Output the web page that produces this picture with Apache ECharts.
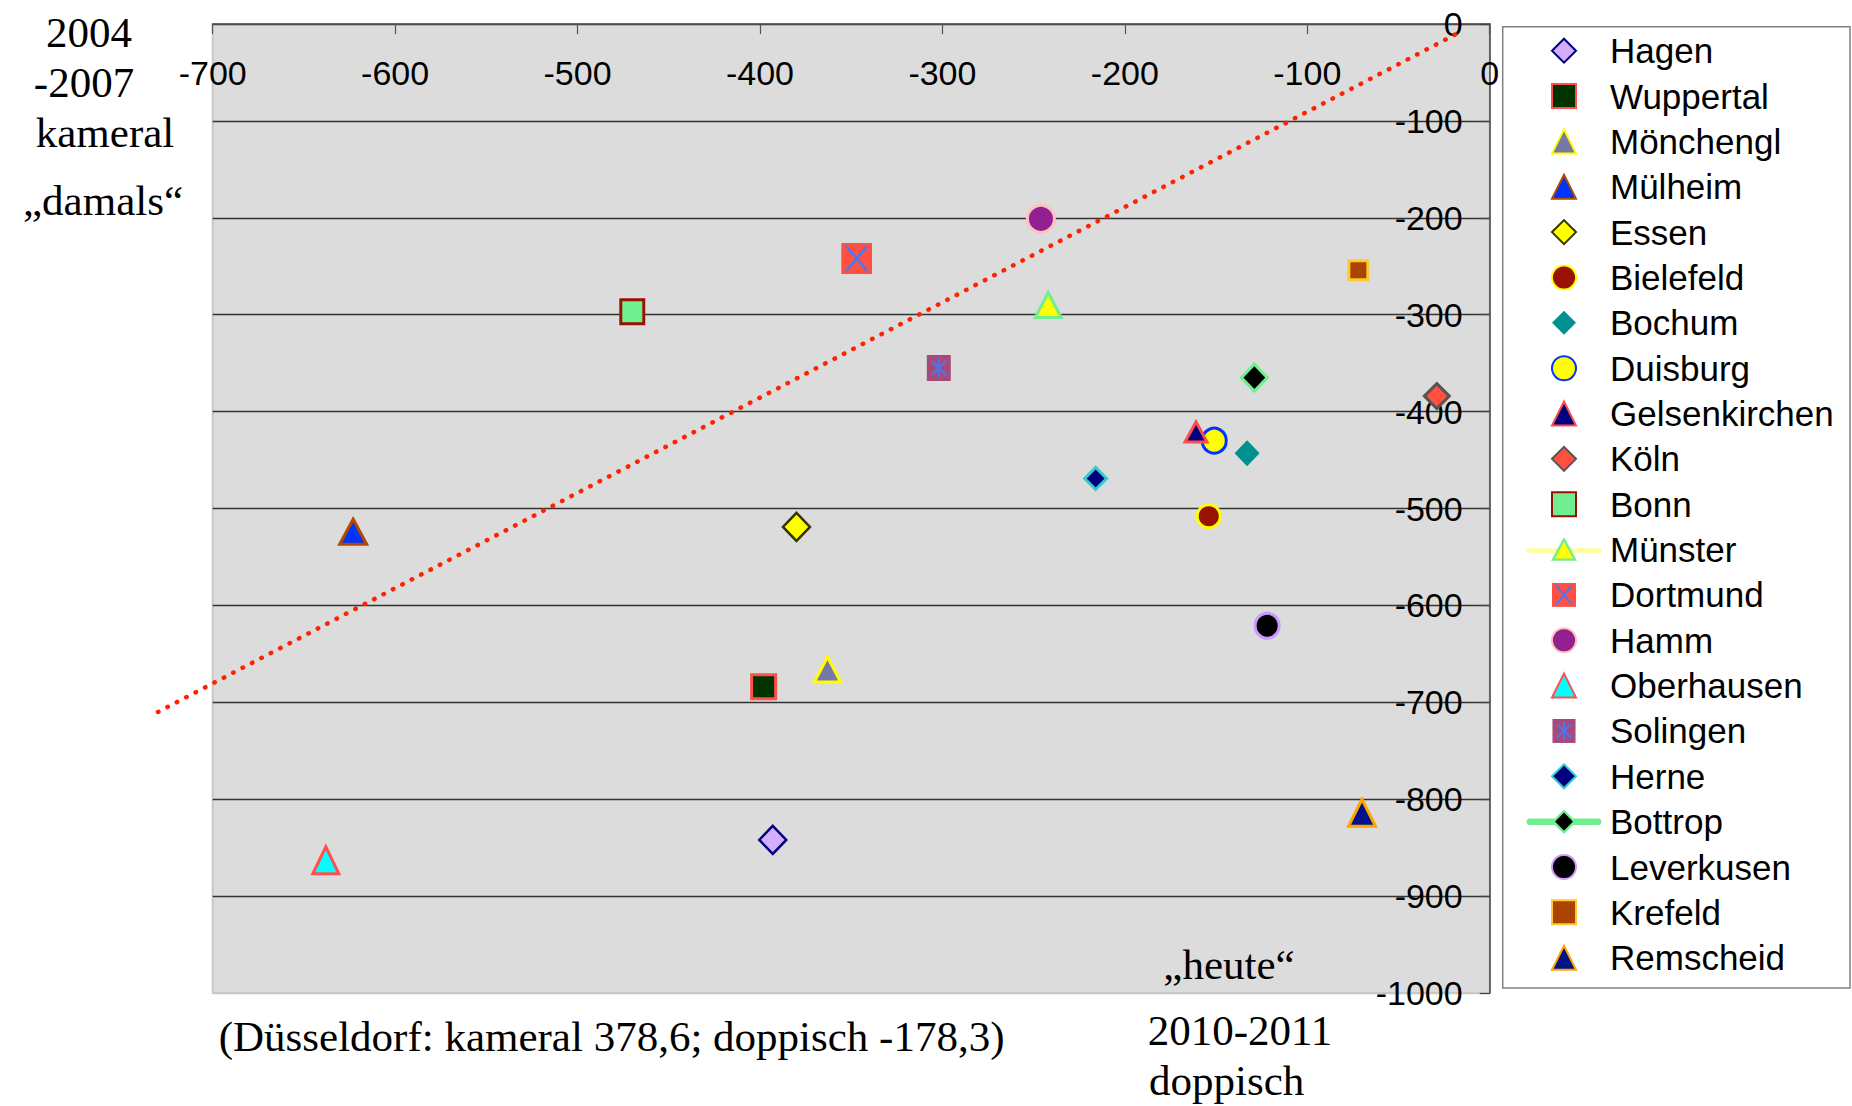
<!DOCTYPE html>
<html><head><meta charset="utf-8">
<script src="https://cdn.jsdelivr.net/npm/echarts@6/dist/echarts.min.js"></script>
<style>html,body{margin:0;padding:0;background:#fff;}#chart{width:1852px;height:1106px;}</style>
</head><body><div id="chart"></div>
<script>
// ---- data ----
const cities = ['Hagen','Wuppertal','Mönchengl','Mülheim','Essen','Bielefeld','Bochum','Duisburg','Gelsenkirchen','Köln','Bonn','Münster','Dortmund','Hamm','Oberhausen','Solingen','Herne','Bottrop','Leverkusen','Krefeld','Remscheid'];
const doppisch = [-393,-398,-363,-623,-380,-154,-133,-151,-161,-29,-470,-242,-347,-246,-638,-302,-216,-129,-122,-72,-70];
const kameral  = [-842,-684,-666,-524,-519,-508,-443,-430,-421,-384,-297,-290,-242,-201,-863,-355,-469,-365,-621,-254,-814];
const trendX = [-730,-17];
const trendY = [-710,-9];
const leftTitle = ['2004','-2007','kameral','„damals“'];
const bottomTitle = ['„heute“','2010-2011','doppisch'];
const note = '(Düsseldorf: kameral 378,6; doppisch -178,3)';

// ---- styles ----
function svgUrl(s){return 'image://data:image/svg+xml;charset=utf-8,'+encodeURIComponent(s);}
const dortmundImg = svgUrl('<svg xmlns="http://www.w3.org/2000/svg" width="31" height="31" viewBox="0 0 31 31"><rect width="31" height="31" fill="#ff5043"/><path d="M5 3 L26 28 M26 3 L5 28" stroke="#4a78f0" stroke-width="2.6" fill="none"/></svg>');
const solingenImg = svgUrl('<svg xmlns="http://www.w3.org/2000/svg" width="25" height="26" viewBox="0 0 25 26"><rect width="25" height="26" fill="#a64a7a"/><path d="M12.5 3 L12.5 23 M5 6 L20 20 M20 6 L5 20" stroke="#4a78f0" stroke-width="2.2" fill="none"/></svg>');
const muensterLegend = svgUrl('<svg xmlns="http://www.w3.org/2000/svg" width="82" height="26" viewBox="0 0 82 26"><line x1="3" y1="14" x2="79" y2="14" stroke="#ffff99" stroke-width="5" stroke-linecap="round"/><path d="M41 2 L53 24 L29 24 Z" fill="#ffff00" stroke="#70ee90" stroke-width="2.5"/></svg>');
const bottropLegend = svgUrl('<svg xmlns="http://www.w3.org/2000/svg" width="82" height="26" viewBox="0 0 82 26"><line x1="4" y1="13" x2="78" y2="13" stroke="#70ee90" stroke-width="7" stroke-linecap="round"/><path d="M41 1.5 L52.5 13 L41 24.5 L29.5 13 Z" fill="#000000" stroke="#70ee90" stroke-width="2.5"/></svg>');
const ICON = {
  diamond: 'path://M12 0 L24 12 L12 24 L0 12 Z',
  triangle: 'path://M12 0 L24 24 L0 24 Z',
  circle: 'path://M12 0 A12 12 0 1 1 11.99 0 Z',
  rect: 'path://M0 0 L24 0 L24 24 L0 24 Z'
};
const S = {
 'Hagen':{symbol:'diamond',size:[27,28],fill:'#d2aefc',stroke:'#000080',w:2.5},
 'Wuppertal':{symbol:'rect',size:[24,24],fill:'#003300',stroke:'#ff5048',w:3},
 'Mönchengl':{symbol:'triangle',size:[26,25],fill:'#7878a8',stroke:'#ffff00',w:3},
 'Mülheim':{symbol:'triangle',size:[27,25],fill:'#0033ff',stroke:'#b04a00',w:3},
 'Essen':{symbol:'diamond',size:[27,28],fill:'#ffff00',stroke:'#333300',w:2.5},
 'Bielefeld':{symbol:'circle',size:[23,23],fill:'#991100',stroke:'#ffff00',w:3},
 'Bochum':{symbol:'diamond',size:[25,26],fill:'#009090',stroke:'#009090',w:0},
 'Duisburg':{symbol:'circle',size:[24,25],fill:'#ffff00',stroke:'#0033ff',w:3},
 'Gelsenkirchen':{symbol:'triangle',size:[22,20],fill:'#000080',stroke:'#ff4c4c',w:3},
 'Köln':{symbol:'diamond',size:[25,25],fill:'#ff5040',stroke:'#555555',w:3},
 'Bonn':{symbol:'rect',size:[23,24],fill:'#70ee90',stroke:'#991100',w:3},
 'Münster':{symbol:'triangle',size:[26,25],fill:'#ffff00',stroke:'#70ee90',w:3,legendIcon:muensterLegend},
 'Dortmund':{symbol:dortmundImg,size:[31,31]},
 'Hamm':{symbol:'circle',size:[27,27],fill:'#922090',stroke:'#ffc0c0',w:3},
 'Oberhausen':{symbol:'triangle',size:[26,27],fill:'#00ffff',stroke:'#ff5050',w:3},
 'Solingen':{symbol:solingenImg,size:[25,26]},
 'Herne':{symbol:'diamond',size:[22,22],fill:'#000080',stroke:'#33cccc',w:3},
 'Bottrop':{symbol:'diamond',size:[26,27],fill:'#000000',stroke:'#70ee90',w:3,legendIcon:bottropLegend},
 'Leverkusen':{symbol:'circle',size:[24,25],fill:'#000000',stroke:'#cc99ff',w:3},
 'Krefeld':{symbol:'rect',size:[19,19],fill:'#aa4400',stroke:'#ffc830',w:3},
 'Remscheid':{symbol:'triangle',size:[27,27],fill:'#00128a',stroke:'#ffa500',w:3}
};

const SANS = '"Liberation Sans", Arial, sans-serif';
const SERIF = '"Liberation Serif", "Times New Roman", serif';

const series = cities.map((name,i)=>{
  const s = S[name];
  return {
    name, type: 'scatter', xAxisIndex: 0, yAxisIndex: 0,
    data: [[doppisch[i], kameral[i]]],
    symbol: s.symbol, symbolSize: s.size,
    itemStyle: {color: s.fill || '#ff5043', borderColor: s.stroke || 'transparent', borderWidth: s.w || 0, opacity: 1},
    z: 5, silent: true, animation: false
  };
});
series.push({
  name: 'trend', type: 'line', xAxisIndex: 1, yAxisIndex: 1,
  data: trendX.map((x,i)=>[x, trendY[i]]),
  symbol: 'none', silent: true, animation: false, z: 3,
  lineStyle: {color: '#ff2200', width: 4.5, type: [0.5, 10.1], cap: 'round'}
});

const legendData = cities.map(name=>{
  const s = S[name];
  let icon = s.legendIcon;
  if (!icon) icon = ICON[s.symbol] || s.symbol;
  return {name, icon};
});

const splitColors = ['#c8c8c8'].concat(Array(10).fill('#333333'));

const gtext = (text, x, y, align) => ({
  type: 'text', x, y, z: 10, silent: true,
  style: {text, font: '43px ' + SERIF, fill: '#000', textAlign: align || 'center', textVerticalAlign: 'middle', align: align || 'center', verticalAlign: 'middle'}
});

const option = {
  backgroundColor: '#ffffff',
  animation: false,
  grid: [
    {left: 212.7, right: 362.3, top: 24, bottom: 113, show: true, backgroundColor: '#dcdcdc', borderColor: '#c8c8c8', borderWidth: 2},
    {left: 158.0, right: 362.3, top: 24, bottom: 113, show: false}
  ],
  xAxis: [{
    type: 'value', gridIndex: 0, position: 'top', min: -700, max: 0, interval: 100,
    axisLine: {show: true, onZero: false, lineStyle: {color: '#555', width: 1.5}},
    axisTick: {show: true, inside: true, length: 10, lineStyle: {color: '#555', width: 1.2}},
    axisLabel: {inside: true, margin: 32, color: '#000', fontSize: 34, fontFamily: SANS, showMinLabel: true, showMaxLabel: true, formatter: v => String(v)},
    splitLine: {show: false}
  }, {
    type: 'value', gridIndex: 1, min: -730, max: 0, show: false
  }],
  yAxis: [{
    type: 'value', gridIndex: 0, position: 'right', min: -1000, max: 0, interval: 100,
    axisLine: {show: true, onZero: false, lineStyle: {color: '#444', width: 1.5}},
    axisTick: {show: true, inside: true, length: 10, lineStyle: {color: '#444', width: 1.2}},
    axisLabel: {inside: true, margin: 27, color: '#000', fontSize: 34, fontFamily: SANS, showMinLabel: true, showMaxLabel: true, formatter: v => String(v)},
    splitLine: {show: true, lineStyle: {color: splitColors, width: 1.3}}
  }, {
    type: 'value', gridIndex: 1, min: -1000, max: 0, show: false
  }],
  legend: {
    data: legendData, orient: 'vertical', left: 1523, top: 33.2, padding: 0,
    itemWidth: 82, itemHeight: 24, itemGap: 10.35, itemTextGap: 10,
    selectedMode: false, z: 10, symbolKeepAspect: true,
    textStyle: {color: '#000', fontSize: 35, fontFamily: SANS}
  },
  graphic: [
    {type: 'rect', z: 0, silent: true, shape: {x: 1502.7, y: 26.7, width: 347.3, height: 961.3}, style: {fill: '#fff', stroke: '#808080', lineWidth: 1.5}},
    gtext(leftTitle[0], 89, 32),
    gtext(leftTitle[1], 84, 82),
    gtext(leftTitle[2], 105, 132),
    gtext(leftTitle[3], 103, 200),
    gtext(bottomTitle[0], 1229, 964),
    gtext(bottomTitle[1], 1240, 1030),
    gtext(bottomTitle[2], 1149, 1080, 'left'),
    gtext(note, 218.7, 1036, 'left')
  ],
  series
};
const chart = echarts.init(document.getElementById('chart'), null, {renderer: 'svg', width: 1852, height: 1106});
chart.setOption(option);
</script></body></html>
